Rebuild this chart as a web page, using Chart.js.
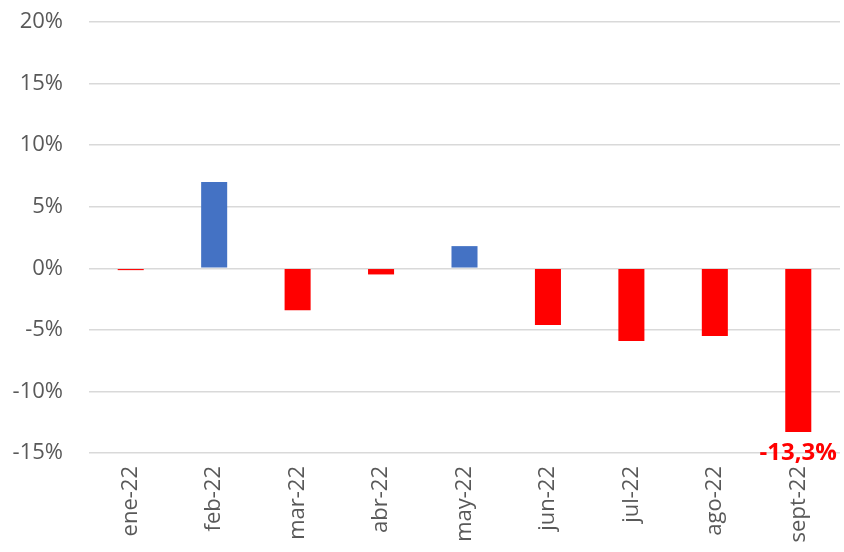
<!DOCTYPE html>
<html>
<head>
<meta charset="utf-8">
<script src="https://cdn.jsdelivr.net/npm/chart.js@4/dist/chart.umd.min.js"></script>
<style>
  html, body { margin: 0; padding: 0; background: #fff; }
  #wrap { width: 844px; height: 552px; }
</style>
</head>
<body>
<div id="wrap"><canvas id="chart" width="844" height="552"></canvas></div>
<script>
// data
const months = ["ene-22", "feb-22", "mar-22", "abr-22", "may-22", "jun-22", "jul-22", "ago-22", "sept-22"];
const changes = [-0.15, 7.0, -3.4, -0.5, 1.8, -4.6, -5.9, -5.5, -13.3];
const yTicks = [-15, -10, -5, 0, 5, 10, 15, 20];
const labelIndex = 8;

// colours
const blue = "#4472C4";
const red = "#FF0000";
const grey = "#595959";

const barColors = changes.map(v => v >= 0 ? blue : red);

// label under the last bar
const lastLabel = {
    id: "lastLabel",
    afterDatasetsDraw(chart) {
        const bar = chart.getDatasetMeta(0).data[labelIndex];
        const ctx = chart.ctx;
        ctx.save();
        ctx.font = "bold 24px 'Open Sans', sans-serif";
        ctx.fillStyle = red;
        ctx.textAlign = "center";
        ctx.textBaseline = "middle";
        ctx.fillText(changes[labelIndex].toFixed(1).replace(".", ",") + "%", bar.x, bar.y + 21);
        ctx.restore();
    }
};

new Chart(document.getElementById("chart"), {
    type: "bar",
    data: {
        labels: months,
        datasets: [{
            data: changes,
            backgroundColor: barColors,
            borderWidth: 0,
            barPercentage: 0.52,
            categoryPercentage: 0.6
        }]
    },
    options: {
        responsive: false,
        animation: false,
        devicePixelRatio: 1,
        layout: { padding: { top: 22, right: 4, left: 0, bottom: 0 } },
        plugins: {
            legend: { display: false },
            tooltip: { enabled: false }
        },
        scales: {
            x: {
                grid: { display: false },
                border: { display: false },
                ticks: {
                    color: grey,
                    font: { family: "'Open Sans', sans-serif", size: 22 },
                    maxRotation: 90,
                    minRotation: 90,
                    padding: 5
                },
                afterFit(scale) {
                    scale.height = 99;
                    scale.paddingLeft = 0;
                    scale.paddingRight = 0;
                }
            },
            y: {
                min: -15,
                max: 20,
                afterBuildTicks(scale) { scale.ticks = yTicks.map(v => ({ value: v })); },
                grid: { color: "#d9d9d9", lineWidth: 1.5, drawTicks: false },
                border: { display: false },
                ticks: {
                    color: grey,
                    font: { family: "'Open Sans', sans-serif", size: 22 },
                    padding: 26,
                    callback: v => v + "%"
                },
                afterFit(scale) {
                    scale.width = 89;
                    scale.paddingTop = 0;
                    scale.paddingBottom = 0;
                }
            }
        }
    },
    plugins: [lastLabel]
});
</script>
</body>
</html>
